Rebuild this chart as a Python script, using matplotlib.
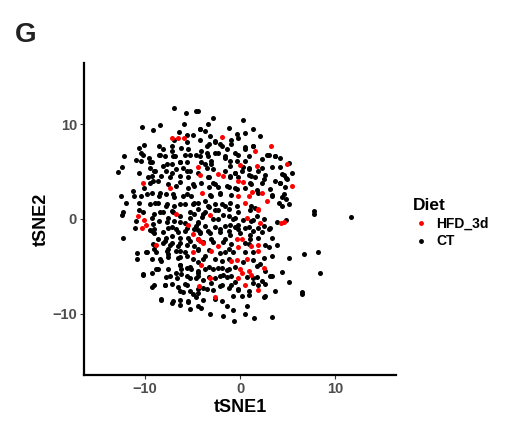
import matplotlib
matplotlib.use("Agg")
import matplotlib.pyplot as plt
from matplotlib.lines import Line2D

plt.rcParams['font.family'] = ['Liberation Sans', 'DejaVu Sans']

# tSNE coordinates, (tSNE1, tSNE2)
ct_points = [
    (-6.98, 11.7), (-5.7, 11.2), (-4.6, 11.4), (-10.3, 9.7), (-9.1, 9.4), (-8.4, 9.9),
    (-6.4, 9.2), (-5.9, 10.0), (-5.6, 8.9), (-4.9, 8.9), (-6.9, 8.4), (-5.6, 8.1),
    (-4.2, 9.5), (-10.1, 7.8), (-10.6, 7.5), (-8.5, 7.7), (-8.1, 7.4), (-7.2, 7.7),
    (-7.1, 7.2), (-6.2, 7.5), (-5.5, 7.4), (-10.4, 7.0), (-12.2, 6.7), (-9.6, 6.5),
    (-8.5, 6.8), (-7.9, 6.7), (-6.8, 6.7), (-5.8, 6.8), (-10.9, 6.2), (-10.4, 6.1),
    (-9.2, 6.0), (-7.2, 5.8), (-6.3, 6.0), (-5.6, 6.0), (-12.4, 5.5), (-12.8, 5.0),
    (-10.6, 4.9), (-9.5, 5.4), (-9.0, 5.1), (-8.1, 5.6), (-7.8, 5.1), (-6.7, 5.3),
    (-6.0, 5.4), (-5.3, 5.1), (-4.4, 4.9), (-9.7, 4.4), (-9.2, 4.5), (-8.3, 4.5),
    (-7.4, 4.4), (-6.3, 4.5), (-5.5, 4.4), (-9.5, 3.8), (-8.6, 4.0), (-7.6, 3.7),
    (-6.7, 3.5), (-5.5, 3.3), (-4.8, 3.5), (-11.3, 3.0), (-10.1, 3.3), (-11.1, 2.4),
    (-12.5, 2.4), (-12.0, 1.7), (-10.4, 2.4), (-9.3, 2.8), (-8.5, 2.4), (-7.8, 2.6),
    (-6.9, 2.3), (-6.0, 2.4), (-5.1, 2.4), (-10.6, 1.7), (-9.5, 1.6), (-8.6, 1.7),
    (-7.8, 1.4), (-6.9, 1.4), (-5.8, 1.6), (-4.8, 1.7),
    (-4.4, 11.4), (-2.8, 10.7), (0.35, 10.5), (-3.4, 10.0), (-1.2, 9.6), (-4.2, 9.5),
    (1.4, 9.5), (-3.7, 9.3), (0.5, 9.1), (-0.35, 9.0), (2.1, 8.8), (-3.2, 8.8),
    (-2.6, 8.3), (-0.9, 8.4), (-0.2, 8.6), (-4.2, 8.4), (-2.1, 7.9), (-3.5, 7.7),
    (1.4, 7.7), (0.5, 7.4), (-1.4, 7.4), (-0.5, 7.0), (-2.6, 7.0), (-4.1, 7.2),
    (-4.6, 6.8), (-3.4, 6.7), (-1.6, 6.5), (3.0, 6.8), (3.7, 6.7), (4.2, 6.5),
    (2.3, 6.3), (0.5, 6.1), (-0.35, 6.1), (-4.1, 6.0), (-3.0, 5.8), (-1.1, 5.6),
    (0.9, 5.4), (5.1, 5.9), (2.3, 5.4), (-3.4, 4.4), (-0.5, 4.9), (0.2, 5.1),
    (-1.1, 4.5), (0.9, 4.7), (1.6, 4.4), (2.5, 4.2), (4.4, 4.8), (5.5, 4.9),
    (4.8, 4.3), (4.2, 3.8), (1.1, 3.8), (-2.6, 3.7), (-4.1, 3.8), (-1.4, 3.5),
    (-0.5, 3.3), (0.5, 3.3), (1.8, 3.1), (-3.0, 2.4), (-2.1, 2.8), (3.4, 2.4),
    (4.6, 2.6), (4.8, 2.1), (-1.1, 1.7), (-4.4, 1.7), (-3.4, 1.4), (-1.9, 1.6),
    (1.2, 1.4), (4.1, 1.7),
    (-12.3, 0.7), (-12.4, 0.4), (-10.6, 1.0), (-10.9, -0.2), (-11.0, -1.0), (-9.2, 0.1),
    (-9.0, 0.5), (-8.5, -0.2), (-8.1, 0.7), (-7.6, 0.1), (-7.2, 0.8), (-6.9, -0.2),
    (-6.3, 0.3), (-5.8, -0.4), (-5.3, 0.1), (-4.8, 0.5), (-9.3, -1.3), (-9.0, -1.1),
    (-7.6, -0.9), (-6.7, -1.1), (-5.8, -1.3), (-4.8, -1.1), (-12.3, -2.0), (-8.6, -2.1),
    (-7.8, -2.0), (-7.2, -1.8), (-6.3, -2.0), (-5.5, -2.0), (-4.4, -2.1), (-8.1, -2.5),
    (-7.4, -2.7), (-6.5, -2.9), (-5.6, -2.7), (-4.8, -2.9), (-9.9, -3.5), (-10.8, -3.6),
    (-10.8, -4.2), (-9.0, -3.2), (-7.6, -3.2), (-7.6, -3.7), (-6.3, -3.4), (-5.6, -3.9),
    (-6.5, -4.1), (-9.2, -4.2), (-8.3, -4.4), (-6.3, -4.9), (-5.6, -5.2), (-6.2, -5.3),
    (-5.1, -5.3), (-8.6, -5.3), (-6.7, -5.7), (-9.2, -5.7), (-10.2, -5.9), (-7.8, -6.1),
    (-6.6, -6.2), (-5.6, -6.0), (-4.6, -6.2), (-9.2, -7.2), (-7.9, -7.0), (-7.2, -6.9),
    (-5.8, -6.9), (-6.3, -7.6), (-5.3, -7.6), (-8.3, -8.6), (-7.1, -8.9), (-6.3, -9.1),
    (-5.5, -8.7), (-5.3, -9.5), (-4.4, -9.2),
    (7.8, 0.85), (7.8, 0.5), (11.7, 0.2), (3.9, -0.3), (4.8, -0.1), (3.0, -1.1),
    (3.4, -2.0), (3.9, -2.7), (5.2, -4.1), (6.7, -3.7), (8.2, -3.5), (4.4, -5.6),
    (8.4, -5.7), (5.2, -6.7), (3.7, -7.6), (6.5, -7.7), (6.5, -7.9), (3.4, -6.0),
    (2.5, -8.3), (2.6, -8.1), (3.4, -10.4), (1.5, -10.5), (0.5, -10.0), (0.7, -9.2),
    (-0.6, -10.8), (-0.7, -9.6), (-1.8, -10.3), (-3.2, -10.0), (-4.1, -9.4),
    (-1.4, -9.2), (-2.6, -8.5), (-1.9, -8.7), (0.2, -8.1), (0.9, -8.0), (-0.7, -8.1),
    (-3.9, -8.6), (-4.4, -7.8), (-3.5, -7.4), (-2.1, -7.1), (-1.2, -7.3), (-0.2, -7.4),
    (1.9, -7.0), (2.6, -6.9), (2.3, -6.6), (3.2, -6.0), (1.4, -6.2), (2.6, -5.5),
    (1.8, -5.0), (-0.9, -6.0), (-0.5, -6.7), (-1.8, -5.9), (-2.6, -6.2), (-3.9, -6.4),
    (-4.4, -5.7), (-3.7, -5.3), (-2.8, -5.3), (-1.9, -5.2), (-1.2, -5.3), (1.4, -4.3),
    (2.1, -4.8), (2.5, -4.1), (3.0, -3.0), (2.6, -2.8), (3.4, -3.9), (0.5, -2.5),
    (-1.2, -3.2), (-2.1, -3.6), (-3.7, -3.9), (-4.4, -4.6), (-4.4, -3.2), (-3.0, -2.1),
    (-1.6, -2.1), (1.1, -2.1), (1.9, -2.0), (2.3, -1.4), (1.4, -1.3), (0.5, -0.9),
    (-0.2, -1.1), (-1.2, -1.3), (-2.1, -1.1), (-3.4, -1.3), (-4.2, -1.4), (-4.4, -0.4),
    (-3.7, 0.7), (-2.6, 1.0), (-2.3, 0.0), (-1.2, 0.3), (-0.5, 0.1), (1.2, -0.2),
    (1.8, 0.3), (1.6, 1.2), (2.5, -0.7), (-0.2, -0.6), (-1.1, -0.6), (-4.6, -8.3),
    (-4.4, 1.1), (-3.3, 1.3), (-2.3, 0.9), (-1.2, 1.1), (-0.2, 0.7), (1.1, 0.9),
    (-4.0, 0.2), (-2.8, 0.0), (-1.8, 0.4), (-0.7, 0.0), (0.35, -0.1), (1.4, -0.1),
    (2.5, 0.0), (-4.6, -0.7), (-3.7, -0.7), (-2.6, -0.8), (-1.6, -0.7), (-0.5, -0.8),
    (0.9, -0.8), (1.9, -1.0), (3.2, -1.0), (-4.2, -1.5), (-3.2, -1.5), (-2.1, -1.4),
    (-1.1, -1.7), (0.0, -1.5), (1.1, -1.7), (-3.9, -2.4), (-2.8, -2.4), (-1.8, -2.4),
    (-0.9, -2.6), (0.9, -2.6), (-4.4, -3.3), (-3.3, -3.3), (-1.6, -3.5), (-0.7, -3.5),
    (0.5, -3.5), (1.4, -3.5), (-3.9, -4.2), (-2.6, -4.2), (-1.9, -4.4), (-1.2, -4.2),
    (0.35, -4.5), (-3.3, -5.1), (-2.3, -5.2), (-1.4, -5.4), (-0.5, -5.1), (-4.4, -6.0),
    (-3.3, -6.1), (-2.1, -6.0), (-1.4, -6.1), (0.7, -6.1), (1.8, -6.1), (-3.0, -6.8),
    (-1.9, -7.0), (-0.9, -7.0), (1.4, -6.8), (-3.9, -7.3), (-2.8, -7.5), (-0.2, -7.5),
    (0.9, -7.6),
    (-10.2, 6.8), (-8.4, 6.8), (-7.0, 6.7), (-5.3, 6.8), (-4.2, 6.7), (-9.5, 6.0),
    (-7.7, 5.8), (-6.3, 6.0), (-3.7, 5.8), (-8.9, 5.1), (-7.2, 4.9), (-5.6, 5.1),
    (-9.1, 4.0), (-6.3, 3.9), (-4.9, 3.7), (-9.8, 2.6), (-8.4, 2.8), (-7.0, 2.6),
    (-5.6, 2.6), (-3.7, 1.9), (-8.9, 1.7), (-7.7, 1.6), (-6.3, 1.6), (-4.9, 1.6),
    (-10.2, 0.7), (-8.4, 0.7), (-7.0, 0.7), (-5.3, 0.7), (-3.9, 0.5), (-9.1, -0.5),
    (-7.7, -0.3), (-6.3, -0.3), (-4.4, -0.3),
    (-9.5, -1.2), (-9.0, -1.5), (-8.1, -1.4), (-7.2, -0.8), (-6.5, -1.4), (-5.6, -1.0),
    (-4.4, -1.2), (-9.1, -2.6), (-7.9, -2.3), (-7.2, -2.5), (-6.3, -2.5), (-5.3, -2.3),
    (-9.8, -3.5), (-8.8, -3.5), (-7.7, -3.4), (-6.7, -3.4), (-5.8, -3.5), (-8.4, -4.2),
    (-7.6, -4.0), (-6.3, -4.0), (-4.9, -4.2), (-10.2, -5.8), (-8.8, -5.3), (-7.6, -5.3),
    (-6.3, -4.9), (-5.3, -5.1), (-4.4, -5.5), (-7.4, -6.0), (-6.2, -5.8), (-5.3, -6.2),
    (-9.0, -7.0), (-7.9, -7.0), (-6.5, -7.2), (-5.6, -7.0), (-4.4, -7.4), (-6.0, -7.7),
    (-4.9, -7.9), (-8.3, -8.5), (-7.0, -8.7), (-6.3, -8.6), (-5.5, -8.8),
    (-3.3, 7.9), (-2.6, 8.1), (-1.9, 7.7), (-0.9, 7.9), (0.5, 7.6), (1.4, 7.7),
    (-3.5, 7.0), (-2.3, 7.0), (-1.6, 6.7), (-1.1, 6.1), (-0.2, 6.8), (0.9, 6.7),
    (2.8, 6.8), (3.7, 6.7), (-3.0, 6.1), (-3.5, 5.4), (-2.8, 5.3), (-1.6, 5.1),
    (-0.5, 4.9), (0.35, 5.5), (0.9, 5.3), (1.9, 5.1), (3.4, 5.5), (4.2, 5.5),
    (4.6, 4.7), (-3.3, 4.4), (-1.1, 4.4), (-0.2, 4.4), (1.2, 4.5), (2.6, 4.7),
    (3.7, 4.0), (4.9, 4.2), (-2.8, 3.8), (1.2, 3.7), (2.3, 3.8), (4.2, 3.8),
    (-3.3, 3.4), (-2.3, 3.4), (-1.2, 3.4), (-0.35, 3.2), (1.9, 2.8), (3.2, 3.2),
    (4.7, 3.4), (-3.2, 2.5), (-2.1, 2.6), (-0.9, 2.5), (3.4, 2.5), (4.4, 2.3),
    (-2.6, 1.6), (-1.6, 1.4), (-0.35, 1.4), (4.4, 1.4), (5.1, 1.6),
]

hfd_points = [
    (-7.2, 8.6), (-6.5, 8.6), (-5.9, 8.6), (-4.4, 5.5), (-10.2, 3.8), (-7.4, 3.3),
    (-1.9, 8.7), (3.3, 7.7), (1.6, 7.2), (0.0, 5.7), (1.8, 5.6), (4.9, 5.8),
    (-4.2, 4.7), (-1.8, 4.5), (-2.3, 4.8), (5.5, 3.5), (-0.2, 4.0), (0.35, 3.9),
    (-4.0, 2.8), (-0.2, 2.4), (0.9, 2.4), (1.3, 2.9), (2.3, 2.7), (2.8, 1.9),
    (0.5, 1.7), (1.9, 1.1),
    (-10.7, 0.3), (-10.1, -0.1), (-10.3, -0.9), (-9.9, -0.6), (-5.5, -0.6), (-4.9, -1.6),
    (-8.8, -2.7), (-4.9, -3.5), (-4.3, -7.1), (-6.7, 0.5), (-4.2, -2.3),
    (4.3, -0.45), (4.6, -0.3), (-2.6, -8.3), (0.5, -7.0), (1.9, -7.5), (2.5, -5.2),
    (1.2, -5.9), (0.9, -5.5), (0.0, -5.3), (0.2, -5.7), (-0.2, -6.2), (-3.2, -6.2),
    (-0.9, -4.4), (-0.35, -4.3), (0.7, -4.2), (1.9, -3.4), (1.9, -2.8), (1.2, -2.9),
    (-0.2, -3.0), (-3.0, -3.4), (-4.1, -4.9), (-3.9, -2.5), (-2.3, -2.9), (-0.35, -2.1),
    (0.25, -2.1), (-3.2, 0.4), (0.7, 0.1), (1.9, 1.0), (2.1, -0.4), (-4.4, -2.1),
]

diet_labels = ["HFD_3d", "CT"]
diet_colors = ["#FF0000", "#000000"]
x_ticks = [-10, 0, 10]
y_ticks = [-10, 0, 10]

fig = plt.figure(figsize=(5.08, 4.25), dpi=100)
ax = fig.add_axes([84 / 508, 50 / 425, 312 / 508, 312 / 425])

ct_x, ct_y = zip(*ct_points)
hfd_x, hfd_y = zip(*hfd_points)
ax.scatter(ct_x, ct_y, s=13, color=diet_colors[1], linewidths=0, zorder=2)
ax.scatter(hfd_x, hfd_y, s=13, color=diet_colors[0], linewidths=0, zorder=3)

ax.set_xlim(-16.4, 16.4)
ax.set_ylim(-16.5, 16.5)
ax.set_xticks(x_ticks)
ax.set_yticks(y_ticks)
ax.set_xticklabels(["\u221210", "0", "10"])
ax.set_yticklabels(["\u221210", "0", "10"])

for side in ["top", "right"]:
    ax.spines[side].set_visible(False)
for side in ["left", "bottom"]:
    ax.spines[side].set_linewidth(1.6)
    ax.spines[side].set_color("black")
ax.tick_params(length=3, width=0.8, color="#333333", labelcolor="#4D4D4D",
               labelsize=10.5, pad=2)
for lab in ax.get_xticklabels() + ax.get_yticklabels():
    lab.set_fontweight("bold")

ax.set_xlabel("tSNE1", fontsize=13, fontweight="bold", labelpad=2)
ax.set_ylabel("tSNE2", fontsize=13, fontweight="bold", labelpad=2)

fig.text(15 / 508, 1 - 42 / 425, "G", fontsize=20, fontweight="bold", color="#222222")

handles = [Line2D([], [], marker="o", linestyle="", markersize=3.5,
                  markerfacecolor=c, markeredgewidth=0) for c in diet_colors]
leg = fig.legend(handles, diet_labels, title="Diet", loc="upper left",
                 bbox_to_anchor=(400 / 508, 1 - 186 / 425), frameon=False,
                 prop={"size": 10, "weight": "bold"},
                 title_fontproperties={"size": 12.5, "weight": "bold"},
                 handlelength=1.2, handletextpad=0.5, labelspacing=0.25)
leg._legend_box.align = "left"

fig.savefig("out.png", dpi=100)
